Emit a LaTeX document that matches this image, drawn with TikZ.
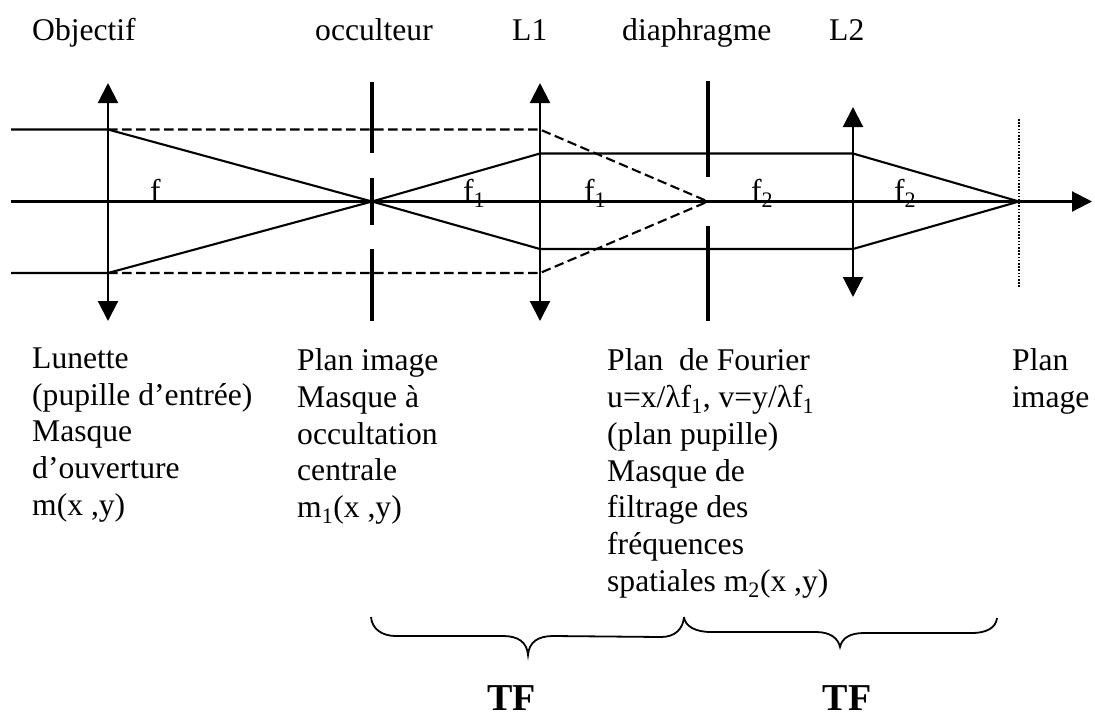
\documentclass[tikz,border=0pt]{standalone}
\usepackage{fontspec}
\setmainfont{Liberation Serif}
\usetikzlibrary{arrows.meta}
\tikzset{
  ray/.style={line width=2.1pt,black},
  dashray/.style={ray,dash pattern=on 9.5pt off 4.5pt},
  lens/.style={line width=2.1pt,{Triangle[length=20pt,width=20pt]}-{Triangle[length=20pt,width=20pt]}},
  mask/.style={line width=3.6pt},
  plane/.style={line width=1.5pt,dash pattern=on 1.6pt off 1.6pt},
  brace/.style={line width=1.8pt},
  lab/.style={inner sep=0pt,anchor=base west,font=\fontsize{31.6}{36.7}\selectfont},
  blk/.style={inner sep=0pt,anchor=north west,align=left,font=\fontsize{31.6}{36.7}\selectfont},
  tf/.style={inner sep=0pt,anchor=base,font=\fontsize{38}{40}\selectfont\bfseries}
}
\begin{document}
\begin{tikzpicture}[x=1pt,y=-1pt]
\useasboundingbox (0,0) rectangle (1095,713);
% key points
\coordinate (A0) at (11,201.5);
\coordinate (Aend) at (1092,201.5);
\coordinate (T0) at (11,129.5);
\coordinate (B0) at (11,273);
\coordinate (Lt) at (108,83);
\coordinate (Lb) at (108,321);
\coordinate (LT) at (108,129.5);
\coordinate (LB) at (108,273);
\coordinate (F) at (372,201.5);
\coordinate (L1t) at (540,83);
\coordinate (L1b) at (540,321);
\coordinate (L1T) at (540,129.5);
\coordinate (L1B) at (540,273);
\coordinate (L1u) at (540,153.5);
\coordinate (L1d) at (540,249);
\coordinate (D) at (708,201.5);
\coordinate (L2t) at (853,107);
\coordinate (L2b) at (853,297);
\coordinate (L2u) at (853,153.5);
\coordinate (L2d) at (853,249);
\coordinate (I) at (1019,201.5);
% axis
\draw[ray,-{Triangle[length=20pt,width=20pt]}] (A0) -- (Aend);
% lenses
\draw[lens] (Lb) -- (Lt);
\draw[lens] (L1b) -- (L1t);
\draw[lens] (L2b) -- (L2t);
% masks
\draw[mask] (372,82) -- (372,153);
\draw[mask] (372,178) -- (372,225);
\draw[mask] (372,249) -- (372,321);
\draw[mask] (708,81) -- (708,177);
\draw[mask] (708,226) -- (708,321);
\draw[plane] (1019,119) -- (1019,287);
% rays
\draw[ray] (T0) -- (LT) -- (F) -- (L1d) -- (L2d) -- (I);
\draw[ray] (B0) -- (LB) -- (F) -- (L1u) -- (L2u) -- (I);
\draw[dashray] (LT) -- (L1T) -- (D);
\draw[dashray] (LB) -- (L1B) -- (D);
% braces
\coordinate (b1a) at (371,617);
\coordinate (b1m) at (528,655);
\coordinate (b1b) at (684,617);
\coordinate (b2b) at (997,618);
\coordinate (b2m) at (840,647);
\draw[brace] (b1a) .. controls (372,629) and (382,636) .. (396,636)
  -- (503,636) .. controls (518,636) and (527,642) .. (b1m)
  .. controls (529,642) and (538,636) .. (553,636)
  -- (661,637) .. controls (675,637) and (683,629) .. (b1b);
\draw[brace] (b1b) .. controls (685,626) and (695,632) .. (711,632)
  -- (816,632) .. controls (830,632) and (838,638) .. (b2m)
  .. controls (842,638) and (850,633) .. (864,633)
  -- (972,633) .. controls (986,633) and (996,628) .. (b2b);
% labels
\node[lab] (n1) at (32,40) {Objectif};
\node[lab] (n2) at (315,40) {occulteur};
\node[lab] (n3) at (512,40) {L1};
\node[lab] (n4) at (622,40) {diaphragme};
\node[lab] (n5) at (829,40) {L2};
\node[lab] (f0) at (150,201) {f};
\node[lab] (f1) at (463,201) {f\textsubscript{1}};
\node[lab] (f2) at (584,201) {f\textsubscript{1}};
\node[lab] (f3) at (751,201) {f\textsubscript{2}};
\node[lab] (f4) at (894,201) {f\textsubscript{2}};
\node[blk] (b1) at (32,342.5) {\strut Lunette\\(pupille d’entrée)\\Masque\\d’ouverture\\m(x ,y)};
\node[blk] (b2) at (297,345) {\strut Plan image\\Masque à\\occultation\\centrale\\m\textsubscript{1}(x ,y)};
\node[blk] (b3) at (607,345) {\strut Plan\ \ de Fourier\\u=x/λf\textsubscript{1}, v=y/λf\textsubscript{1}\\(plan pupille)\\Masque de\\filtrage des\\fréquences\\spatiales m\textsubscript{2}(x ,y)};
\node[blk] (b4) at (1012,345) {\strut Plan\\image};
\node[tf] (t1) at (511.5,710) {TF};
\node[tf] (t2) at (847,710) {TF};
\end{tikzpicture}
\end{document}
